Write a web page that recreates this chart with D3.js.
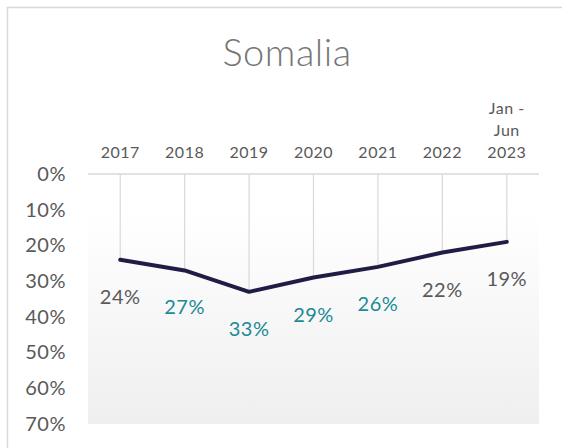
<!DOCTYPE html>
<html>

<head>
  <meta charset='utf-8'>
  <script src="https://cdn.jsdelivr.net/npm/d3@7"></script>
  <style type="text/css">
    body {
      margin: 0;
      background: #fff;
    }

    text {
      font-family: Lato, "Open Sans", sans-serif;
    }
  </style>
</head>

<body>
  <script>
    let years = ['2017', '2018', '2019', '2020', '2021', '2022', 'Jan - Jun 2023']
    let values = [24, 27, 33, 29, 26, 22, 19]
    let yTicks = [0, 10, 20, 30, 40, 50, 60, 70]
    // label colours, teal for the middle years
    let labelColors = ['#595959', '#1a8a96', '#1a8a96', '#1a8a96', '#1a8a96', '#595959', '#595959']

    let w = 562
    let h = 448
    let padL = 88, padR = 539, padT = 174, padB = 424

    let svg = d3.select('body')
      .append('svg')
      .attr('width', w)
      .attr('height', h)

    // frame
    svg.append('path')
      .attr('d', 'M7.5,' + h + 'V7.5H' + w)
      .attr('fill', 'none')
      .attr('stroke', '#d9d9d9')
      .attr('stroke-width', 1.5)

    svg.append('text')
      .attr('x', 287)
      .attr('y', 66)
      .attr('text-anchor', 'middle')
      .attr('font-size', 38)
      .attr('font-weight', 300)
      .attr('letter-spacing', 0.5)
      .attr('fill', '#767676')
      .text('Somalia')

    let data = years.map((d, i) => ({ year: d, value: values[i] }))

    let xScale = d3.scaleBand()
      .domain(years)
      .range([padL, padR])

    let yScale = d3.scaleLinear()
      .domain([0, 70])
      .range([padT, padB])

    let cx = d => xScale(d) + xScale.bandwidth() / 2

    let grad = svg.append('defs').append('linearGradient')
      .attr('id', 'bg')
      .attr('x1', 0).attr('y1', 0).attr('x2', 0).attr('y2', 1)
    grad.append('stop').attr('offset', '15%').attr('stop-color', '#ffffff')
    grad.append('stop').attr('offset', '100%').attr('stop-color', '#efefef')

    svg.append('rect')
      .attr('x', padL)
      .attr('y', padT)
      .attr('width', padR - padL)
      .attr('height', padB - padT)
      .attr('fill', 'url(#bg)')

    // drop lines from 0 to the value
    svg.selectAll('.drop')
      .data(data)
      .enter()
      .append('line')
      .attr('class', 'drop')
      .attr('x1', d => cx(d.year))
      .attr('x2', d => cx(d.year))
      .attr('y1', yScale(0))
      .attr('y2', d => yScale(d.value))
      .attr('stroke', '#d9d9d9')
      .attr('stroke-width', 1.2)

    svg.append('line')
      .attr('x1', padL).attr('x2', padR)
      .attr('y1', yScale(0)).attr('y2', yScale(0))
      .attr('stroke', '#d9d9d9')
      .attr('stroke-width', 1.5)

    // y axis, labels only
    let yAxis = d3.axisLeft(yScale)
      .tickValues(yTicks)
      .tickFormat(d => d + '%')
      .tickSize(0)
      .tickPadding(0)

    let yg = svg.append('g')
      .attr('transform', 'translate(66,0)')
      .call(yAxis)
    yg.select('.domain').remove()
    yg.selectAll('text')
      .attr('font-size', 20)
      .attr('font-family', 'Lato, sans-serif')
      .attr('letter-spacing', 0.5)
      .attr('fill', '#595959')

    // x axis on top, wrapped labels
    let xAxis = d3.axisTop(xScale).tickSize(0).tickPadding(0)
    let xg = svg.append('g')
      .attr('transform', 'translate(0,158)')
      .call(xAxis)
    xg.select('.domain').remove()
    xg.selectAll('text')
      .attr('font-size', 16)
      .attr('font-family', 'Lato, sans-serif')
      .attr('letter-spacing', 0.5)
      .attr('fill', '#595959')
      .attr('dy', 0)
      .each(function (d) {
        let parts = d === 'Jan - Jun 2023' ? ['Jan -', 'Jun', '2023'] : [d]
        let t = d3.select(this).text(null)
        parts.forEach((p, i) => {
          t.append('tspan')
            .attr('x', 0)
            .attr('y', (i - parts.length + 1) * 22)
            .text(p)
        })
      })

    let line = d3.line()
      .x(d => cx(d.year))
      .y(d => yScale(d.value))

    svg.append('path')
      .datum(data)
      .attr('fill', 'none')
      .attr('stroke', '#1f1d45')
      .attr('stroke-width', 4)
      .attr('stroke-linejoin', 'round')
      .attr('stroke-linecap', 'round')
      .attr('d', line)

    svg.selectAll('.lbl')
      .data(data)
      .enter()
      .append('text')
      .attr('class', 'lbl')
      .attr('x', d => cx(d.year))
      .attr('y', d => yScale(d.value) + 44)
      .attr('text-anchor', 'middle')
      .attr('font-size', 20)
      .attr('letter-spacing', 0.5)
      .attr('fill', (d, i) => labelColors[i])
      .text(d => d.value + '%')
  </script>
</body>

</html>
